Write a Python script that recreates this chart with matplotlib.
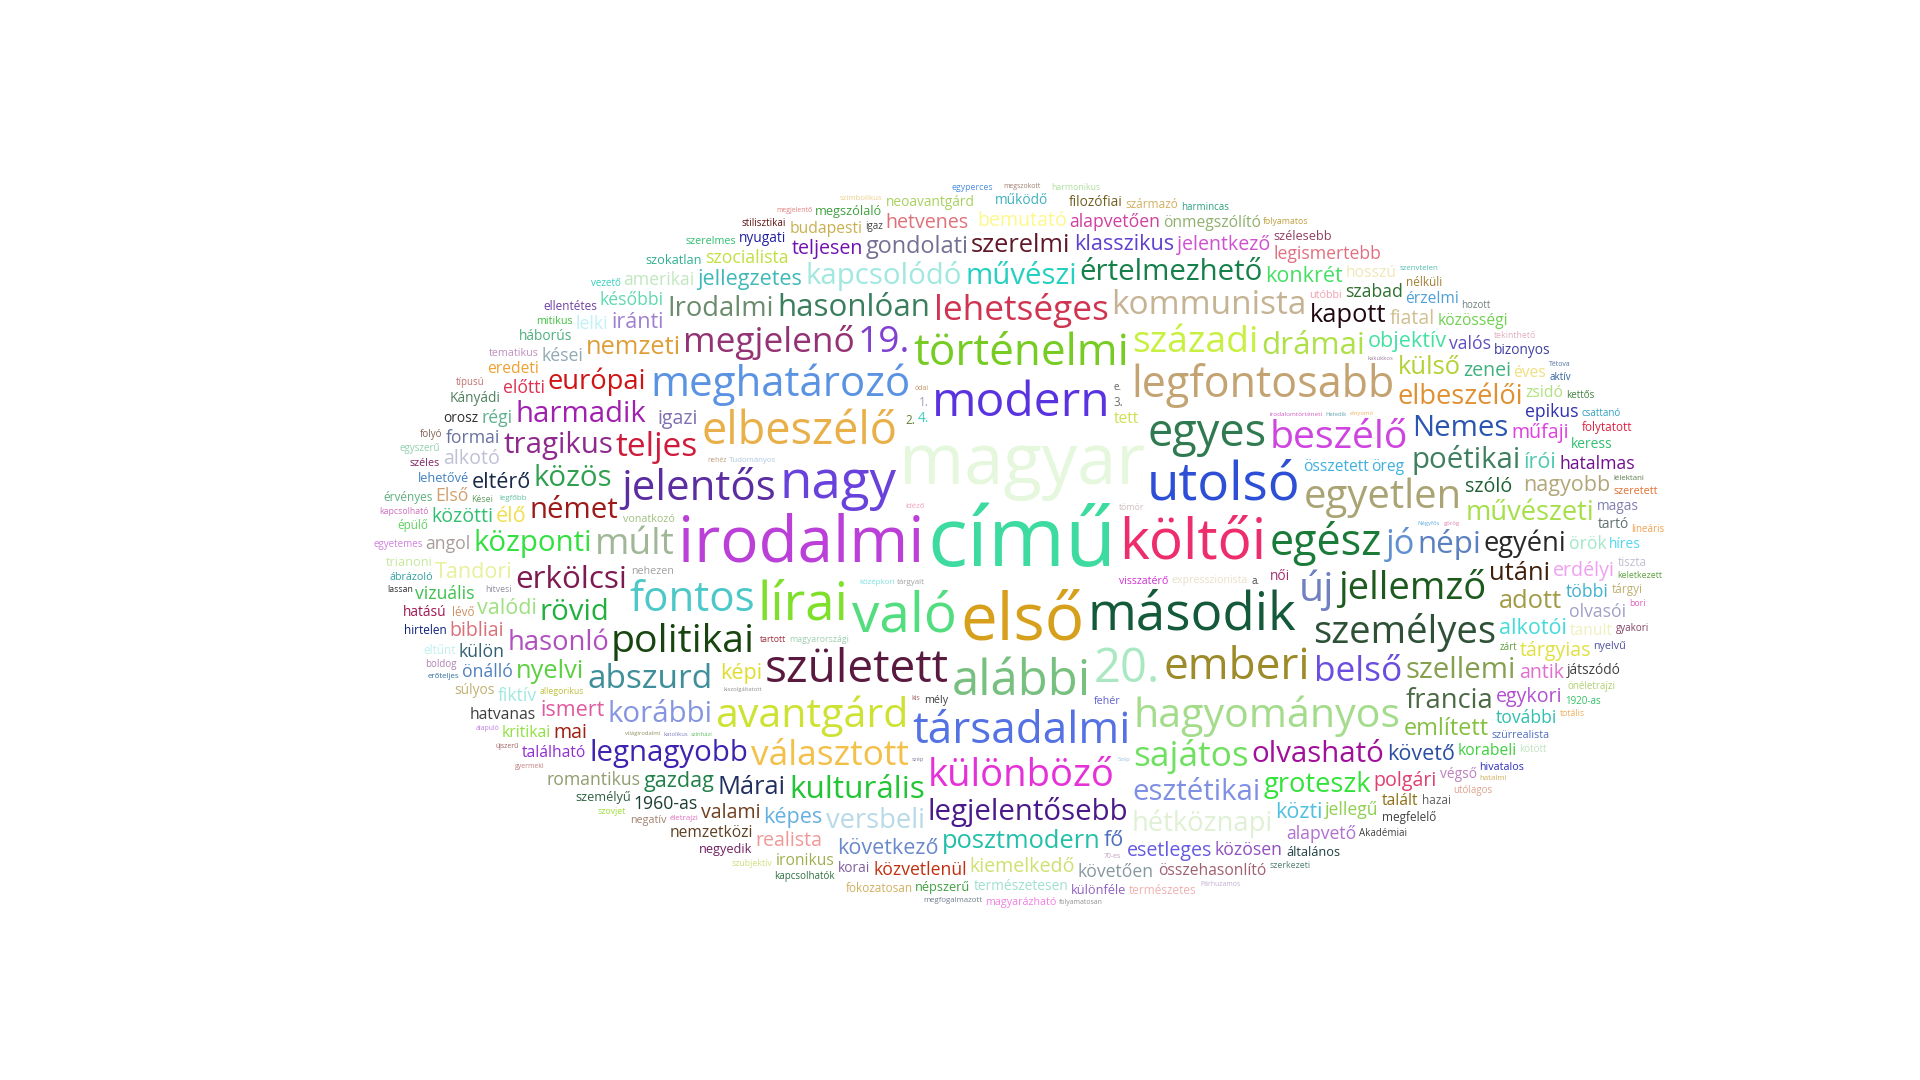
import numpy as np
import matplotlib
matplotlib.use("Agg")
import matplotlib.pyplot as plt

# ---------------- data: words, their weights and colours ----------------
words = [
    "című", "magyar", "első", "irodalmi", "költői", "való", "második", "utolsó", "nagy", "lírai",
    "alábbi", "modern", "20.", "született", "egyes", "elbeszélő", "emberi", "társadalmi", "történelmi", "egész",
    "legfontosabb", "meghatározó", "jelentős", "fontos", "hagyományos", "avantgárd", "új", "egyetlen", "beszélő", "politikai",
    "különböző", "személyes", "jellemző", "múlt", "századi", "19.", "sajátos", "lehetséges", "választott", "belső",
    "megjelenő", "jó", "teljes", "kommunista", "abszurd", "népi", "hasonlóan", "erkölcsi", "kulturális", "drámai",
    "német", "legjelentősebb", "esztétikai", "olvasható", "poétikai", "korábbi", "közös", "rövid", "művészi", "központi",
    "kapcsolódó", "harmadik", "Nemes", "szellemi", "értelmezhető", "legnagyobb", "tragikus", "hasonló", "művészeti", "elbeszélői",
    "egyéni", "versbeli", "európai", "Irodalmi", "francia", "groteszk", "hétköznapi", "utáni", "Márai", "nemzeti",
    "posztmodern", "külső", "kapott", "adott", "nyelvi", "szerelmi", "gondolati", "említett", "objektív", "jellegzetes",
    "valódi", "képi", "élő", "alkotói", "eltérő", "klasszikus", "ismert", "képes", "gazdag", "következő",
    "követő", "nagyobb", "Tandori", "írói", "konkrét", "közti", "iránti", "fő", "műfaji", "teljesen",
    "valami", "igazi", "esetleges", "jelentkező", "tárgyias", "közötti", "erdélyi", "szóló", "zenei", "fiatal",
    "polgári", "bibliai", "kiemelkedő", "bemutató", "egykori", "realista", "hetvenes", "alkotó", "mai", "antik",
    "szabad", "szocialista", "alapvetően", "közvetlenül", "örök", "kései", "jellegű", "többi", "külön", "előtti",
    "1960-as", "angol", "fiktív", "valós", "későbbi", "formai", "epikus", "vizuális", "követően", "közösen",
    "legismertebb", "romantikus", "régi", "önálló", "hatalmas", "olvasói", "alapvető", "további", "amerikai", "Első",
    "lelki", "összetett", "korabeli", "budapesti", "nemzetközi", "önmegszólító", "található", "közösségi", "öreg", "tett",
    "tanult", "hatvanas", "zsidó", "talált", "hosszú", "eredeti", "érzelmi", "kritikai", "ironikus", "éves",
    "összehasonlító", "természetesen", "háborús", "keress", "tartó", "végső", "nyugati", "bizonyos", "magas", "Kányádi",
    "működő", "neoavantgárd", "súlyos", "orosz", "filozófiai", "korai", "híres", "4.", "női", "hatású",
    "játszódó", "lehetővé", "szokatlan", "népszerű", "megszólaló", "személyű", "szélesebb", "trianoni", "különféle", "negyedik",
    "általános", "származó", "épülő", "fokozatosan", "hirtelen", "lévő", "megfelelő", "eltűnt", "tárgyi", "természetes",
    "ellentétes", "érvényes", "folytatott", "visszatérő", "expresszionista", "tiszta", "2.", "3.", "1.", "nélküli",
    "hazai", "fehér", "vonatkozó", "nehezen", "szürrealista", "tematikus", "mély", "ábrázoló", "mitikus", "utóbbi",
    "negatív", "szerelmes", "magyarázható", "magyarországi", "nyelvű", "hivatalos", "széles", "szeretett", "önéletrajzi", "kapcsolhatók",
    "egyetemes", "boldog", "kettős", "aktív", "Akadémiai", "csattanó", "egyszerű", "harmincas", "típusú", "stilisztikai",
    "hozott", "allegorikus", "1920-as", "tekinthető", "vezető", "utólagos", "kapcsolható", "lineáris", "zárt", "a.",
    "e.", "folyó", "gyakori", "keletkezett", "kötött", "igaz", "szubjektív", "tartott", "hitvesi", "tömör",
    "szerkezeti", "folyamatos", "szovjet", "egyperces", "harmonikus", "totális", "Kései", "lassan", "bori", "tárgyalt",
    "Tudományos", "megfogalmazott", "középkori", "legfőbb", "életrajzi", "lélektani", "irodalomtörténeti", "idéző", "erőteljes", "szimbolikus",
    "szenvtelen", "hatalmi", "Párhuzamos", "megjelentő", "nehéz", "megszokott", "70-es", "Tétova", "alapuló", "folyamatosan",
    "ódai", "újszerű", "kis", "gyermeki", "kiszolgáltatott", "Hetedik", "Négyfős", "elnyomó", "görög", "színházi",
    "katolikus", "Szép", "kakukkos", "világirodalmi", "szép",
]

weights = [
    85, 72, 67, 65, 58, 56, 54, 54, 54, 54,
    50, 49, 48, 47, 46, 46, 45, 45, 45, 44,
    44, 43, 43, 43, 42, 42, 42, 41, 40, 40,
    39, 39, 39, 38, 38, 38, 36, 36, 36, 36,
    36, 35, 34, 34, 34, 32, 32, 32, 32, 32,
    30, 30, 30, 30, 30, 30, 30, 30, 30, 30,
    30, 30, 30, 30, 30, 30, 30, 28, 28, 28,
    28, 28, 28, 28, 28, 28, 28, 26, 26, 26,
    26, 26, 26, 26, 26, 26, 24, 24, 22, 22,
    22, 22, 22, 22, 22, 22, 22, 22, 22, 22,
    22, 22, 22, 22, 22, 22, 22, 22, 20, 20,
    20, 20, 20, 20, 20, 20, 20, 20, 20, 20,
    20, 20, 20, 20, 20, 20, 20, 20, 20, 20,
    18, 18, 18, 18, 18, 18, 18, 18, 18, 18,
    18, 18, 18, 18, 18, 18, 18, 18, 18, 18,
    18, 18, 18, 18, 18, 18, 18, 18, 18, 18,
    18, 16, 16, 16, 16, 16, 16, 16, 16, 16,
    16, 16, 16, 16, 16, 16, 16, 16, 16, 16,
    16, 14, 14, 14, 14, 14, 14, 14, 14, 14,
    14, 14, 14, 14, 14, 14, 14, 14, 14, 14,
    14, 13, 13, 13, 13, 13, 13, 13, 13, 13,
    13, 12, 12, 12, 12, 12, 12, 12, 12, 12,
    12, 12, 12, 12, 12, 12, 12, 12, 12, 12,
    12, 11, 11, 11, 11, 11, 11, 11, 11, 11,
    11, 11, 11, 11, 11, 11, 11, 11, 10, 10,
    10, 10, 10, 10, 10, 10, 10, 10, 10, 10,
    10, 10, 10, 10, 10, 10, 10, 10, 10, 10,
    10, 10, 10, 10, 10, 10, 9, 9, 9, 9,
    9, 9, 9, 9, 9, 9, 9, 9, 9, 8,
    8, 8, 8, 8, 8, 8, 8, 8, 8, 8,
    8, 8, 7, 7, 7, 7, 7, 7, 7, 7,
    7, 7, 7, 7, 6, 6, 6, 6, 6, 6,
    6, 6, 6, 6, 6,
]

colors = [
    "#3ddba0", "#e5f7dc", "#d69f1c", "#bb40d8", "#ee2e6c", "#52de7e", "#145a3a", "#2c4fd6", "#6842da", "#7ee02a",
    "#78c07f", "#5a33e0", "#aae8c2", "#5a1a40", "#2f7a50", "#e9b04a", "#9d8a28", "#5472e3", "#76cc22", "#1a7a38",
    "#c4a372", "#5b93e3", "#5c2da0", "#4dc8c8", "#a4dc8c", "#cde232", "#7080c0", "#aaa474", "#cf45df", "#17440f",
    "#e532d8", "#2d5037", "#1c5a1e", "#a0b898", "#c8f040", "#8040d0", "#6fe060", "#cf3550", "#f3c04a", "#6b4de0",
    "#943374", "#6090d0", "#d01a3a", "#c5b394", "#3e8f9a", "#5a80c0", "#3b7e5e", "#7e1a52", "#22c534", "#aee048",
    "#9e1a1a", "#4a1a8a", "#7f8fe3", "#a0109a", "#3d7f5f", "#8595e0", "#30a050", "#22b040", "#25d0c0", "#33e040",
    "#a0e8e0", "#a020b0", "#2a55b0", "#86a050", "#15804a", "#4022b0", "#8e2a8e", "#b050c0", "#a6e048", "#e09030",
    "#282828", "#b8dae8", "#d01414", "#6a8c6c", "#4b6a44", "#33e33a", "#e0f0d4", "#40200c", "#20305e", "#e09e38",
    "#22c0a8", "#b2d236", "#200812", "#a29a44", "#5cd040", "#601828", "#747094", "#84c040", "#44e0a4", "#40b8b8",
    "#9ee080", "#e0dc30", "#f0e050", "#44dcd8", "#182848", "#6040d0", "#e05a9f", "#64b0e0", "#208048", "#6a88cc",
    "#2b4fa0", "#b2a67a", "#e8f09a", "#50c8b0", "#44e064", "#50c0e0", "#a080d0", "#5070c0", "#e040e0", "#7010b0",
    "#704020", "#8070b0", "#6658e0", "#d050d0", "#e0e040", "#30c070", "#f0a0f0", "#1f6030", "#40b080", "#d0c090",
    "#e04070", "#d87078", "#d0e070", "#fcf88c", "#b050d0", "#f09898", "#e07078", "#c0c0d8", "#a02010", "#e070d0",
    "#307030", "#c0e040", "#d040a0", "#c03010", "#a0e8c8", "#90a8b0", "#90d050", "#40b0d0", "#306070", "#e03050",
    "#1d3f33", "#a89c9c", "#a0e8e0", "#6050c0", "#60d8b0", "#6a72a0", "#3030b0", "#40c050", "#8898a0", "#9050c0",
    "#e07080", "#909e70", "#60b090", "#5080c0", "#701090", "#a0a0c8", "#b070d0", "#30c0b0", "#c0e8c0", "#d0a070",
    "#c0f0f8", "#40b0e0", "#40d040", "#c8b050", "#5e4022", "#90b070", "#9030d0", "#70d050", "#40b0e0", "#cfe050",
    "#f0f0c0", "#404040", "#b0e080", "#907018", "#f0e8b8", "#f0a030", "#50a0d8", "#90e040", "#a0b050", "#f0e080",
    "#a06070", "#a0e0d0", "#50b080", "#30c070", "#607070", "#c080c0", "#2020a0", "#4040a0", "#8080b0", "#508060",
    "#40b0c0", "#a8d060", "#c0b070", "#303030", "#706020", "#8060a0", "#50d8f0", "#40d0c0", "#a03070", "#a01850",
    "#404040", "#4080c0", "#30b090", "#40a040", "#40a040", "#306040", "#904060", "#c8e8a0", "#9060c0", "#702060",
    "#204040", "#d0b060", "#60d060", "#d0b060", "#102080", "#d09060", "#404040", "#c0f0f0", "#c0b070", "#f0b0b0",
    "#7040a0", "#60b080", "#e02040", "#d030d0", "#e8e0c8", "#c0c0d0", "#608030", "#707070", "#a0a0c0", "#a08030",
    "#606060", "#6060d0", "#a0c080", "#a0a0a0", "#5070c0", "#c090c0", "#404040", "#30a0a0", "#40c040", "#f0a0b0",
    "#a08070", "#30c070", "#f080e0", "#a0d0b0", "#5050a0", "#3030c0", "#802060", "#e07030", "#b0d070", "#307040",
    "#d080e0", "#b080b0", "#408040", "#3060a0", "#404040", "#30a0c0", "#90d0b0", "#30a080", "#c07070", "#601010",
    "#708080", "#c0c040", "#30c060", "#e0b0c0", "#30d0c0", "#e0a090", "#d070c0", "#f0a050", "#60a040", "#404040",
    "#606060", "#806050", "#804060", "#60a040", "#c0e0c0", "#404040", "#d0e080", "#a03040", "#9090a0", "#d0c0c0",
    "#508070", "#c0a040", "#a0e040", "#5090e0", "#b0e0a0", "#f0b060", "#60a060", "#303030", "#e060c0", "#a0a0a0",
    "#b0c8e0", "#708090", "#80e0e0", "#60c0a0", "#e070c0", "#608050", "#d060c0", "#f0a0c0", "#3070a0", "#f0d090",
    "#50c0b0", "#d0b060", "#c0b0d0", "#e08080", "#c0a080", "#a08070", "#c0a0c0", "#5070a0", "#c080e0", "#909090",
    "#c09060", "#a06060", "#a06060", "#c08080", "#909090", "#60a0b0", "#60b0e0", "#f0b060", "#e080b0", "#60c060",
    "#8080c0", "#a0c0e0", "#a080a0", "#909060", "#8080a0",
]

# ---------------- layout settings ----------------
W, H, DPI = 1920, 1080, 100
FAMILY = "Open Sans"
SCALE = 0.98           # font pixels per weight unit
S = 2                  # collision grid step (pixels)
CX, CY, RA, RB = 1022, 545, 650, 366   # elliptical cloud region

gw, gh = W // S, H // S
yy, xx = np.mgrid[0:gh, 0:gw]
ell = ((xx + 0.5) * S - CX) ** 2 / RA ** 2 + ((yy + 0.5) * S - CY) ** 2 / RB ** 2
outside = ell > 1.0
occ = outside.astype(np.int32)

fig = plt.figure(figsize=(W / DPI, H / DPI), dpi=DPI)
ax = fig.add_axes([0, 0, 1, 1])
ax.set_xlim(0, W)
ax.set_ylim(H, 0)
ax.axis("off")
renderer = fig.canvas.get_renderer()


def find_spot(occ, bh, bw):
    I = np.zeros((gh + 1, gw + 1), np.int64)
    I[1:, 1:] = occ.cumsum(0).cumsum(1)
    vh, vw = gh - bh + 1, gw - bw + 1
    if vh <= 0 or vw <= 0:
        return None
    s = I[bh:bh + vh, bw:bw + vw] - I[0:vh, bw:bw + vw] - I[bh:bh + vh, 0:vw] + I[0:vh, 0:vw]
    free = s == 0
    if not free.any():
        return None
    cyg = (np.arange(vh) + bh / 2) * S
    cxg = (np.arange(vw) + bw / 2) * S
    d = ((cxg[None, :] - CX) / RA) ** 2 + ((cyg[:, None] - CY) / RB) ** 2
    d = np.where(free, d, np.inf)
    k = int(np.argmin(d))
    return divmod(k, vw)


order = sorted(range(len(words)), key=lambda i: -weights[i])
for i in order:
    px = weights[i] * SCALE
    t = ax.text(0, 0, words[i], fontsize=px * 72 / DPI, family=FAMILY, color=colors[i],
                ha="left", va="top")
    for attempt in range(12):
        bb = t.get_window_extent(renderer)
        bw = int(np.ceil(bb.width / S)) + 1
        bh = int(np.ceil(bb.height / S)) + 1
        grid = occ if attempt < 10 else (occ * (~outside))
        spot = find_spot(grid, bh, bw)
        if spot is not None:
            gy, gx = spot
            occ[gy:gy + bh, gx:gx + bw] = 1
            # text box sits inside the reserved cells with a half-cell pad
            t.set_position((gx * S + (bw * S - bb.width) / 2, gy * S + (bh * S - bb.height) / 2))
            break
        px *= 0.9
        t.set_fontsize(px * 72 / DPI)

fig.savefig("out.png", dpi=DPI, facecolor="white")
